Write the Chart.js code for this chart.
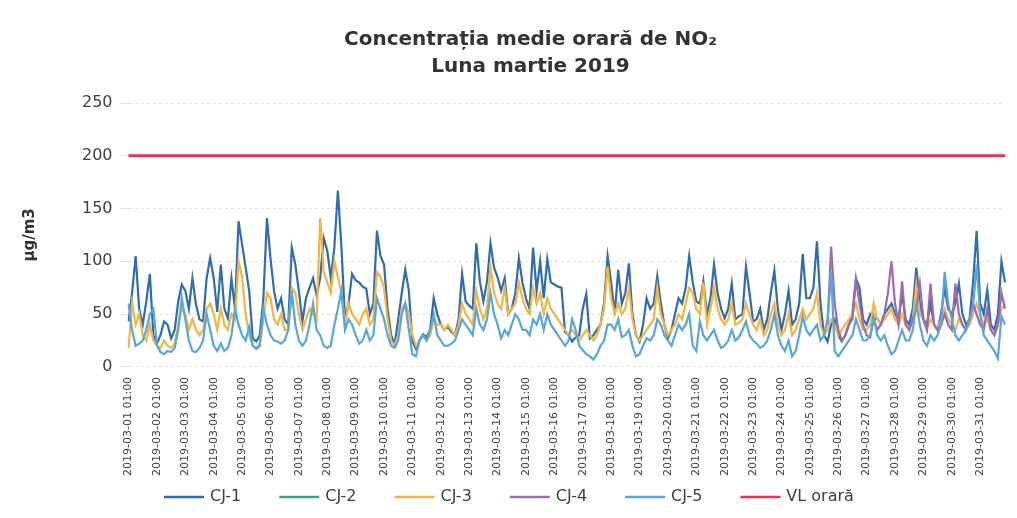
<!DOCTYPE html>
<html>
<head>
<meta charset="utf-8">
<script src="https://cdn.jsdelivr.net/npm/chart.js@4.4.1/dist/chart.umd.min.js"></script>
<style>
  html, body { margin: 0; padding: 0; background: #fff; }
  #wrap { width: 1017px; height: 518px; position: relative; }
</style>
</head>
<body>
<div id="wrap"><canvas id="no2Chart"></canvas></div>
<script>
// Zile si ore (din 3 in 3 ore)
const days = [
  "2019-03-01", "2019-03-02", "2019-03-03", "2019-03-04", "2019-03-05", "2019-03-06",
  "2019-03-07", "2019-03-08", "2019-03-09", "2019-03-10", "2019-03-11", "2019-03-12",
  "2019-03-13", "2019-03-14", "2019-03-15", "2019-03-16", "2019-03-17", "2019-03-18",
  "2019-03-19", "2019-03-20", "2019-03-21", "2019-03-22", "2019-03-23", "2019-03-24",
  "2019-03-25", "2019-03-26", "2019-03-27", "2019-03-28", "2019-03-29", "2019-03-30",
  "2019-03-31"
];
const hours = ["01:00", "04:00", "07:00", "10:00", "13:00", "16:00", "19:00", "22:00"];

const cj1 = [
  43, 70, 105, 55, 40, 62, 88, 30,
  22, 30, 43, 40, 27, 35, 62, 78,
  72, 55, 84, 59, 45, 43, 84, 103,
  84, 52, 97, 55, 46, 84, 55, 138,
  116, 94, 72, 27, 24, 30, 65, 141,
  103, 72, 55, 65, 45, 40, 113, 97,
  72, 43, 65, 75, 84, 68, 84, 122,
  110, 84, 113, 167, 113, 45, 60, 88,
  82, 80, 76, 74, 50, 60, 129, 105,
  97, 55, 30, 21, 45, 70, 92, 72,
  24, 17, 25, 31, 28, 35, 65, 50,
  40, 35, 38, 33, 30, 45, 88, 62,
  58, 55, 117, 81, 62, 80, 117, 94,
  85, 72, 84, 50, 55, 70, 103, 80,
  65, 55, 113, 72, 100, 65, 102, 80,
  78, 76, 75, 33, 30, 24, 28, 30,
  55, 69, 27, 30, 35, 40, 60, 105,
  80, 50, 92, 60, 70, 98, 50, 30,
  24, 40, 65, 55, 60, 86, 60, 40,
  27, 35, 50, 65, 60, 75, 105, 80,
  62, 60, 81, 50, 65, 97, 70, 55,
  46, 55, 79, 45, 48, 50, 95, 70,
  43, 45, 55, 35, 45, 70, 91, 55,
  35, 50, 72, 40, 45, 60, 107, 65,
  65, 75, 119, 60, 30, 24, 40, 45,
  30, 24, 30, 40, 50, 84, 75, 45,
  40, 50, 45, 46, 40, 50, 55, 60,
  50, 45, 70, 45, 40, 55, 94, 60,
  45, 40, 60, 40, 35, 50, 75, 55,
  50, 60, 79, 50, 40, 45, 80, 129,
  60, 50, 73, 40, 35, 50, 100, 80
];

const cj2 = []; // fara date in grafic

const cj3 = [
  18, 60, 40, 50, 30, 25, 40, 25,
  20, 18, 25, 20, 18, 22, 40, 55,
  50, 35, 45, 35, 30, 35, 55, 60,
  50, 35, 55, 40, 35, 50, 45, 100,
  85, 50, 30, 20, 18, 22, 45, 70,
  65, 45, 40, 50, 35, 35, 75, 70,
  50, 35, 45, 55, 50, 45, 141, 90,
  80, 70, 100, 85, 70, 40, 60, 50,
  45, 40, 50, 55, 40, 45, 90, 85,
  75, 45, 25, 20, 30, 55, 60, 50,
  30, 20, 25, 30, 25, 30, 45, 40,
  40, 35, 40, 35, 30, 40, 60, 50,
  45, 40, 72, 55, 45, 55, 94, 70,
  60, 55, 75, 50, 55, 60, 80, 65,
  55, 50, 75, 60, 70, 50, 65, 55,
  50, 45, 40, 35, 30, 35, 30, 25,
  30, 35, 30, 25, 30, 40, 55, 95,
  65, 50, 60, 50, 55, 75, 45, 30,
  25, 30, 35, 40, 45, 75, 50, 40,
  30, 35, 40, 50, 45, 60, 75, 70,
  55, 50, 80, 40, 55, 75, 55, 45,
  40, 45, 60, 40, 42, 45, 60, 50,
  40, 35, 45, 30, 35, 50, 60, 40,
  30, 35, 50, 30, 35, 45, 55, 45,
  50, 55, 70, 40, 30, 35, 45, 40,
  30, 35, 40, 45, 50, 60, 45, 35,
  35, 40, 60, 45, 40, 45, 50, 55,
  45, 40, 50, 40, 35, 45, 78, 50,
  45, 35, 45, 40, 35, 45, 55, 45,
  40, 35, 45, 40, 35, 40, 50, 60,
  50, 40, 45, 35, 30, 40, 55, 60
];

const cj4 = [
  null, null, null, null, null, null, null, null,
  null, null, null, null, null, null, null, null,
  null, null, null, null, null, null, null, null,
  null, null, null, null, null, null, null, null,
  null, null, null, null, null, null, null, null,
  null, null, null, null, null, null, null, null,
  null, null, null, null, null, null, null, null,
  null, null, null, null, null, null, null, null,
  null, null, null, null, null, null, null, null,
  null, null, null, null, null, null, null, null,
  null, null, null, null, null, null, null, null,
  null, null, null, null, null, null, null, null,
  null, null, null, null, null, null, null, null,
  null, null, null, null, null, null, null, null,
  null, null, null, null, null, null, null, null,
  null, null, null, null, null, null, null, null,
  null, null, null, null, null, null, null, null,
  null, null, null, null, null, null, null, null,
  null, null, null, null, null, null, null, null,
  null, null, null, null, null, null, null, null,
  null, null, null, null, null, null, null, null,
  null, null, null, null, null, null, null, null,
  null, null, null, null, null, null, null, null,
  null, null, null, null, null, null, null, null,
  null, null, null, null, null, 40, 114, 60,
  35, 25, 30, 40, 45, 83, 60, 40,
  30, 28, 45, 35, 40, 50, 70, 100,
  60, 40, 81, 40, 35, 45, 55, 79,
  45, 35, 79, 40, 35, 40, 50, 40,
  35, 79, 50, 40, 35, 45, 60, 50,
  40, 35, 55, 35, 30, 40, 70, 55
];

const cj5 = [
  60, 35, 20, 22, 25, 35, 50, 55,
  20, 14, 12, 15, 14, 18, 35, 65,
  45, 25, 15, 14, 18, 25, 50, 35,
  20, 15, 22, 15, 18, 30, 55, 40,
  30, 25, 38, 20, 17, 20, 55, 40,
  30, 25, 24, 22, 25, 35, 72, 40,
  25, 20, 25, 40, 60, 35, 30, 20,
  18, 20, 40, 55, 72, 35, 45, 40,
  30, 22, 25, 35, 25, 30, 65, 55,
  45, 30, 20, 18, 25, 50, 60, 35,
  12, 10, 25, 30, 25, 35, 50, 30,
  25, 20, 20, 22, 25, 35, 45, 40,
  35, 30, 55, 40, 35, 45, 70, 50,
  40, 27, 35, 30, 40, 50, 45, 35,
  35, 30, 45, 40, 50, 35, 50, 40,
  35, 30, 25, 20, 25, 45, 35, 20,
  16, 12, 10, 7, 12, 20, 25, 40,
  40, 35, 45, 28, 30, 35, 20, 10,
  12, 20, 27, 25, 30, 45, 40, 30,
  25, 20, 30, 40, 35, 40, 50, 20,
  15, 43, 30, 25, 30, 35, 25, 18,
  20, 25, 35, 25, 28, 35, 43, 30,
  25, 22, 18, 20, 25, 35, 50, 30,
  20, 15, 25, 10, 15, 30, 48, 35,
  30, 35, 40, 25, 30, 45, 90, 15,
  10, 15, 20, 25, 30, 45, 35, 25,
  25, 30, 48, 30, 25, 30, 20, 12,
  15, 25, 35, 25, 25, 35, 60, 40,
  25, 20, 30, 25, 30, 40, 90, 60,
  45, 30, 25, 30, 35, 45, 57, 97,
  50, 30, 25, 20, 15, 8, 48, 40
];

const vlOrara = 200; // valoarea limita orara

const labels = [];
days.forEach(d => hours.forEach(h => labels.push(d + " " + h)));

Chart.defaults.font.family = "'DejaVu Sans', sans-serif";
Chart.defaults.color = "#333";

// legenda desenata jos, cu linii ca in Excel
const legendLines = {
  id: "legendLines",
  afterDraw(chart) {
    const ctx = chart.ctx;
    const y = 497, lineW = 40, gap = 6, space = 38;
    let x = 164;
    ctx.save();
    ctx.font = "16px 'DejaVu Sans', sans-serif";
    ctx.textBaseline = "middle";
    chart.data.datasets.forEach(ds => {
      ctx.strokeStyle = ds.borderColor;
      ctx.lineWidth = 2.5;
      ctx.beginPath();
      ctx.moveTo(x, y);
      ctx.lineTo(x + lineW, y);
      ctx.stroke();
      ctx.fillStyle = "#404040";
      ctx.fillText(ds.label, x + lineW + gap, y);
      x += lineW + gap + ctx.measureText(ds.label).width + space;
    });
    ctx.restore();
  }
};

new Chart(document.getElementById("no2Chart"), {
  type: "line",
  data: {
    labels: labels,
    datasets: [
      { label: "CJ-1", data: cj1, borderColor: "#2E6CB5", order: 6 },
      { label: "CJ-2", data: cj2, borderColor: "#3DA57A", order: 5 },
      { label: "CJ-3", data: cj3, borderColor: "#F5B53F", order: 4 },
      { label: "CJ-4", data: cj4, borderColor: "#9C6BB0", order: 3 },
      { label: "CJ-5", data: cj5, borderColor: "#56A7DD", order: 2 },
      {
        label: "VL orară",
        data: [{ x: labels[0], y: vlOrara }, { x: labels[labels.length - 1], y: vlOrara }],
        borderColor: "#EE2D55",
        borderWidth: 3,
        order: 1
      }
    ]
  },
  options: {
    responsive: true,
    maintainAspectRatio: false,
    animation: false,
    elements: {
      point: { radius: 0 },
      line: { borderWidth: 2.2, tension: 0 }
    },
    layout: { padding: { left: 56, right: 12, top: 0, bottom: 40 } },
    plugins: {
      legend: { display: false },
      tooltip: { enabled: false },
      title: {
        display: true,
        text: ["Concentrația medie orară de NO₂", "Luna martie 2019"],
        color: "#333",
        font: { size: 20, weight: "bold", lineHeight: 1.35 },
        padding: { top: 26, bottom: 23 }
      }
    },
    scales: {
      x: {
        grid: { display: false },
        border: { display: false },
        ticks: {
          autoSkip: false,
          minRotation: 90,
          maxRotation: 90,
          padding: 2,
          color: "#404040",
          font: { size: 11 },
          callback: function (value, index) {
            return index % hours.length === 0 ? this.getLabelForValue(value) : null;
          }
        }
      },
      y: {
        min: 0,
        max: 250,
        ticks: { stepSize: 50, padding: 8, color: "#404040", font: { size: 16 } },
        grid: { color: "#e2e2e2" },
        border: { display: false, dash: [3, 3] },
        title: {
          display: true,
          text: "µg/m3",
          font: { size: 15, weight: "bold" },
          padding: { top: -35, bottom: 35 }
        }
      }
    }
  },
  plugins: [legendLines]
});
</script>
</body>
</html>
